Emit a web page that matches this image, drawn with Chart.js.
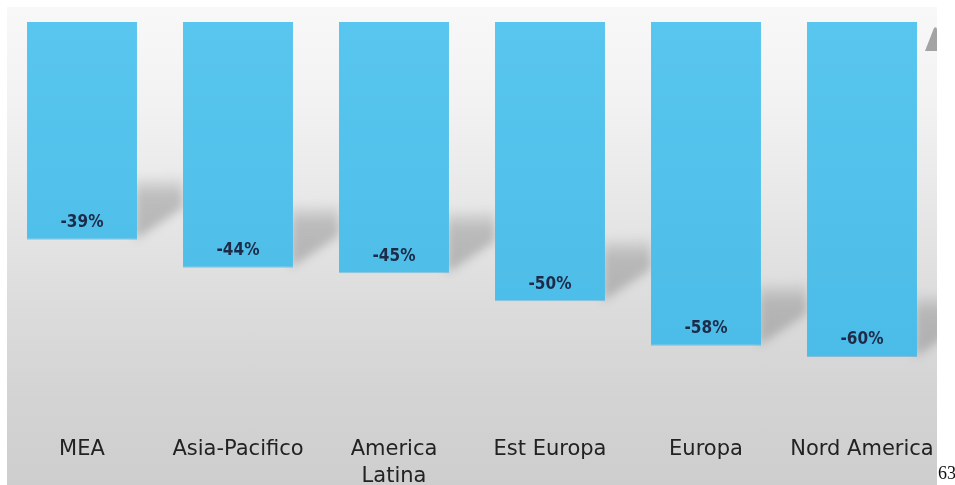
<!DOCTYPE html>
<html>
<head>
<meta charset="utf-8">
<script src="https://cdn.jsdelivr.net/npm/chart.js@4.4.1/dist/chart.umd.min.js"></script>
<style>
  html, body { margin: 0; padding: 0; background: #fff; overflow: hidden; }
  #wrap { position: relative; width: 955px; height: 485px; }
  #slide {
    position: absolute; left: 7px; top: 7px; width: 930px; height: 478px;
    background: linear-gradient(to bottom, #f8f8f8 0%, #f2f2f2 20%, #e8e8e8 40%, #dcdcdc 62%, #d3d3d3 82%, #cecece 100%);
  }
  #chart { position: absolute; left: 0; top: 0; }
  #page {
    position: absolute; left: 938px; top: 463px;
    font: 18px "Liberation Serif", serif; color: #111;
  }
</style>
</head>
<body>
<div id="wrap">
  <div id="slide"></div>
  <canvas id="chart" width="955" height="485"></canvas>
  <div id="page">63</div>
</div>
<script>
/* ===== DATA ===== */
const regions = [
  ['MEA'],
  ['Asia-Pacifico'],
  ['America', 'Latina'],
  ['Est Europa'],
  ['Europa'],
  ['Nord America'],
];
const change = [-39, -44, -45, -50, -58, -60];

const LABEL_NAVY = '#1d2b48';

/* ===== PLUGINS ===== */
// soft cast shadow to the right of every bar
const barShadows = {
  id: 'barShadows',
  beforeDatasetsDraw(chart) {
    const { ctx } = chart;
    const bars = chart.getDatasetMeta(0).data;
    ctx.save();
    ctx.beginPath();
    ctx.rect(0, 0, 937, 485);
    ctx.clip();
    ctx.filter = 'blur(5px)';
    bars.forEach((bar, i) => {
      const right = bar.x + bar.width / 2;
      const next = i < bars.length - 1 ? bars[i + 1].x - bars[i + 1].width / 2 : right + 46;
      const bottom = bar.y;
      const g = ctx.createLinearGradient(0, bottom - 64, 0, bottom);
      g.addColorStop(0, 'rgba(130,130,130,0.05)');
      g.addColorStop(0.3, 'rgba(130,130,130,0.42)');
      g.addColorStop(1, 'rgba(130,130,130,0.48)');
      ctx.fillStyle = g;
      ctx.beginPath();
      ctx.moveTo(right - 2, bottom - 62);
      ctx.lineTo(next, bottom - 64);
      ctx.lineTo(next, bottom - 32);
      ctx.lineTo(right - 2, bottom);
      ctx.closePath();
      ctx.fill();
    });
    ctx.filter = 'none';
    ctx.restore();

    // small grey corner ornament at the top right
    ctx.save();
    ctx.fillStyle = '#a3a3a3';
    ctx.beginPath();
    ctx.moveTo(934, 28);
    ctx.quadraticCurveTo(937, 26, 937, 30);
    ctx.lineTo(937, 51);
    ctx.lineTo(925, 51);
    ctx.closePath();
    ctx.fill();
    ctx.restore();
  }
};

// percentage written near the end of each bar
const valueLabels = {
  id: 'valueLabels',
  afterDatasetsDraw(chart) {
    const { ctx } = chart;
    const meta = chart.getDatasetMeta(0);
    ctx.save();
    ctx.font = 'bold 17px "DejaVu Sans Condensed", "DejaVu Sans", sans-serif';
    ctx.fillStyle = LABEL_NAVY;
    ctx.textAlign = 'center';
    ctx.textBaseline = 'middle';
    meta.data.forEach((bar, i) => {
      ctx.fillText(change[i] + '%', bar.x, bar.y - 17);
    });
    ctx.restore();
  }
};

/* ===== CHART ===== */
const ctx = document.getElementById('chart').getContext('2d');
const barFill = ctx.createLinearGradient(0, 22, 0, 360);
barFill.addColorStop(0, '#58c6ee');
barFill.addColorStop(1, '#4bbce8');

new Chart(ctx, {
  type: 'bar',
  data: {
    labels: regions,
    datasets: [{
      data: change,
      backgroundColor: barFill,
      borderColor: 'rgba(60,160,205,0.5)',
      borderWidth: { bottom: 1, left: 0, right: 0, top: 0 },
      borderSkipped: false,
      categoryPercentage: 1,
      barPercentage: 0.705,
    }]
  },
  options: {
    responsive: false,
    animation: false,
    layout: { padding: { left: 4, right: 15, top: 22, bottom: 0 } },
    plugins: { legend: { display: false }, tooltip: { enabled: false } },
    scales: {
      y: {
        display: false,
        min: -72,
        max: 0,
      },
      x: {
        grid: { display: false, drawTicks: false },
        border: { display: false },
        ticks: {
          padding: 12,
          color: '#222',
          maxRotation: 0,
          autoSkip: false,
          font: { family: '"DejaVu Sans", sans-serif', size: 21, lineHeight: 1.3 },
        },
        afterFit(scale) { scale.height = 61; },
      }
    }
  },
  plugins: [barShadows, valueLabels]
});
</script>
</body>
</html>
